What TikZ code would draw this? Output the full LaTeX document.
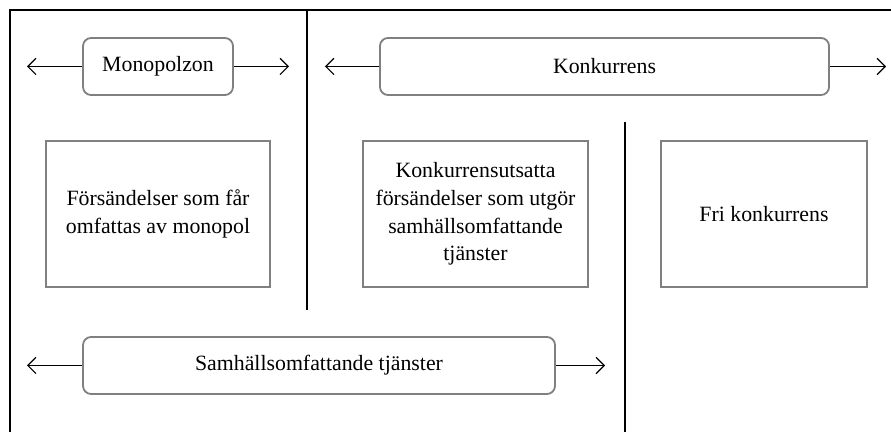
\documentclass[tikz,border=0pt]{standalone}
\usepackage{fontspec}
\setmainfont{Liberation Serif}[Ligatures=TeX]
\usetikzlibrary{arrows.meta}
\tikzset{
zone/.style={draw=gray,line width=1pt,rounded corners=4.5pt,minimum height=31.4pt,inner sep=0pt},
category/.style={draw=gray,line width=1pt,minimum height=80.3pt,align=center,inner sep=0pt},
spread/.style={line width=0.6pt,-{Straight Barb[length=4.5pt,width=9pt]}}
}
\begin{document}
\begin{tikzpicture}[x=0.55pt,y=-0.55pt,font=\rmfamily\fontsize{12}{15.2}\selectfont]
\useasboundingbox (0,0) rectangle (891,432);
\draw[line width=1.1pt] (10,432) -- (10,10) -- (891,10);
\draw[line width=1.1pt] (307,10) -- (307,310);
\draw[line width=1.1pt] (625,122) -- (625,432);

\node[zone,minimum width=82.5pt] (monopolzon) at (158,66.5) {Monopolzon};
\node[zone,minimum width=247pt] (konkurrens) at (604.5,66.5) {Konkurrens};
\node[zone,minimum width=259.6pt] (samhall) at (319,365.5) {Samhällsomfattande tjänster};

\node[category,minimum width=123.2pt] (monopol) at (158,214) {Försändelser som får\\omfattas av monopol};
\node[category,minimum width=123.8pt] (utsatta) at (475.5,214) {Konkurrensutsatta\\försändelser som utgör\\samhällsomfattande\\tjänster};
\node[category,minimum width=113.3pt] (fri) at (764,214) {Fri konkurrens};

\coordinate (m1) at (27,66.5);
\coordinate (m2) at (289,66.5);
\coordinate (k1) at (325,66.5);
\coordinate (k2) at (886,66.5);
\coordinate (s1) at (27,365.5);
\coordinate (s2) at (605,365.5);

\draw[spread] (monopolzon) -- (m1);
\draw[spread] (monopolzon) -- (m2);
\draw[spread] (konkurrens) -- (k1);
\draw[spread] (konkurrens) -- (k2);
\draw[spread] (samhall) -- (s1);
\draw[spread] (samhall) -- (s2);

\end{tikzpicture}
\end{document}
